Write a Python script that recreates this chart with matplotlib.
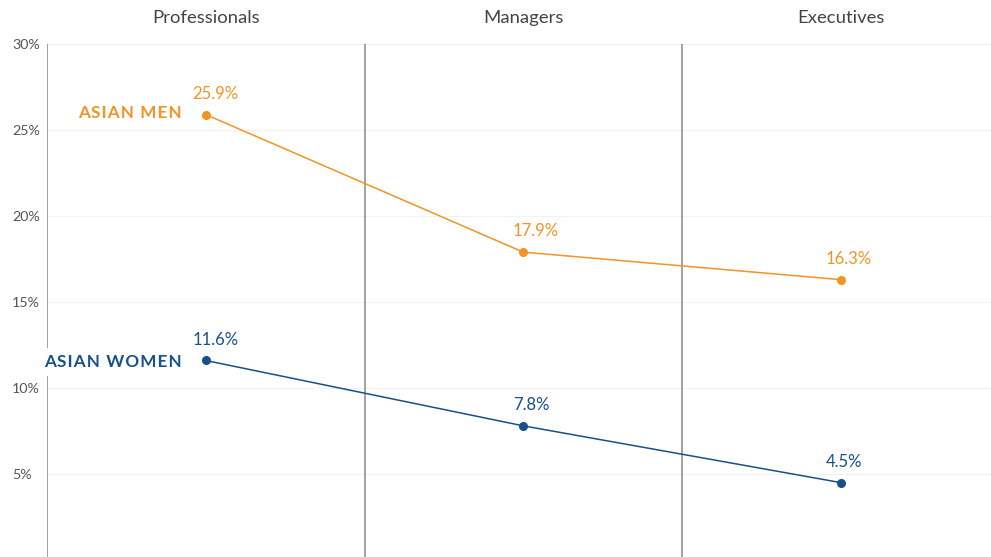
import matplotlib
matplotlib.use("Agg")
import matplotlib.pyplot as plt
from matplotlib.transforms import blended_transform_factory

plt.rcParams['font.family'] = ['Lato', 'DejaVu Sans']

categories = ["Professionals", "Managers", "Executives"]
asian_men = [25.9, 17.9, 16.3]
asian_women = [11.6, 7.8, 4.5]
series_names = ["ASIAN MEN", "ASIAN WOMEN"]
yticks = [5, 10, 15, 20, 25, 30]
ytick_labels = ["5%", "10%", "15%", "20%", "25%", "30%"]

orange = "#F39324"
blue = "#17508A"

W, H = 991, 557
fig = plt.figure(figsize=(W / 100, H / 100), dpi=100)
left = 47 / W
right = 999.5 / W
bottom = (H - 560) / H
top = (H - 44) / H
ax = fig.add_axes([left, bottom, right - left, top - bottom])
ax.set_xlim(-0.5, 2.5)
ax.set_ylim(0, 30)
for s in ax.spines.values():
    s.set_visible(False)

ax.set_xticks([])
ax.set_yticks(yticks)
ax.set_yticklabels(ytick_labels)
ax.tick_params(axis='y', length=0, pad=25, labelsize=10.3, labelcolor="#555555")
for lab in ax.get_yticklabels():
    lab.set_horizontalalignment('left')
for y in yticks:
    ax.axhline(y, color="#f2f2f2", lw=0.8, zorder=0)

for xb in [-0.5, 0.5, 1.5, 2.5]:
    ax.axvline(xb, color="#9a9a9a", lw=1.3, zorder=1)

xs = list(range(len(categories)))
trans = blended_transform_factory(ax.transData, ax.transAxes)
for x, c in zip(xs, categories):
    ax.annotate(c, (x, 1), xycoords=trans, xytext=(0, 19), textcoords='offset points',
                ha='center', va='center', fontsize=13.3, color="#444444", annotation_clip=False)

HAIR = "\u200a"
label_dx = [[7, 9, 5.5], [7, 6, 2]]  # small horizontal nudges (points)
name_dy = [1.2, -1.0]
for i, (vals, color, name) in enumerate([(asian_men, orange, series_names[0]),
                                         (asian_women, blue, series_names[1])]):
    ax.plot(xs, vals, color=color, lw=1.1, marker='o', ms=5.5, zorder=3, clip_on=False)
    for x, v, dx in zip(xs, vals, label_dx[i]):
        ax.annotate(f"{v}%", (x, v), xytext=(dx, 15), textcoords='offset points',
                    ha='center', va='center', fontsize=12, color=color, zorder=4)
    spaced = HAIR.join(name)
    ax.annotate(spaced, (xs[0], vals[0]), xytext=(-17, name_dy[i]), textcoords='offset points',
                ha='right', va='center', fontsize=12.3, fontweight='bold', color=color,
                bbox=dict(boxstyle='square,pad=0.35', fc='white', ec='none'), zorder=5)

fig.savefig("out.png", dpi=100)
